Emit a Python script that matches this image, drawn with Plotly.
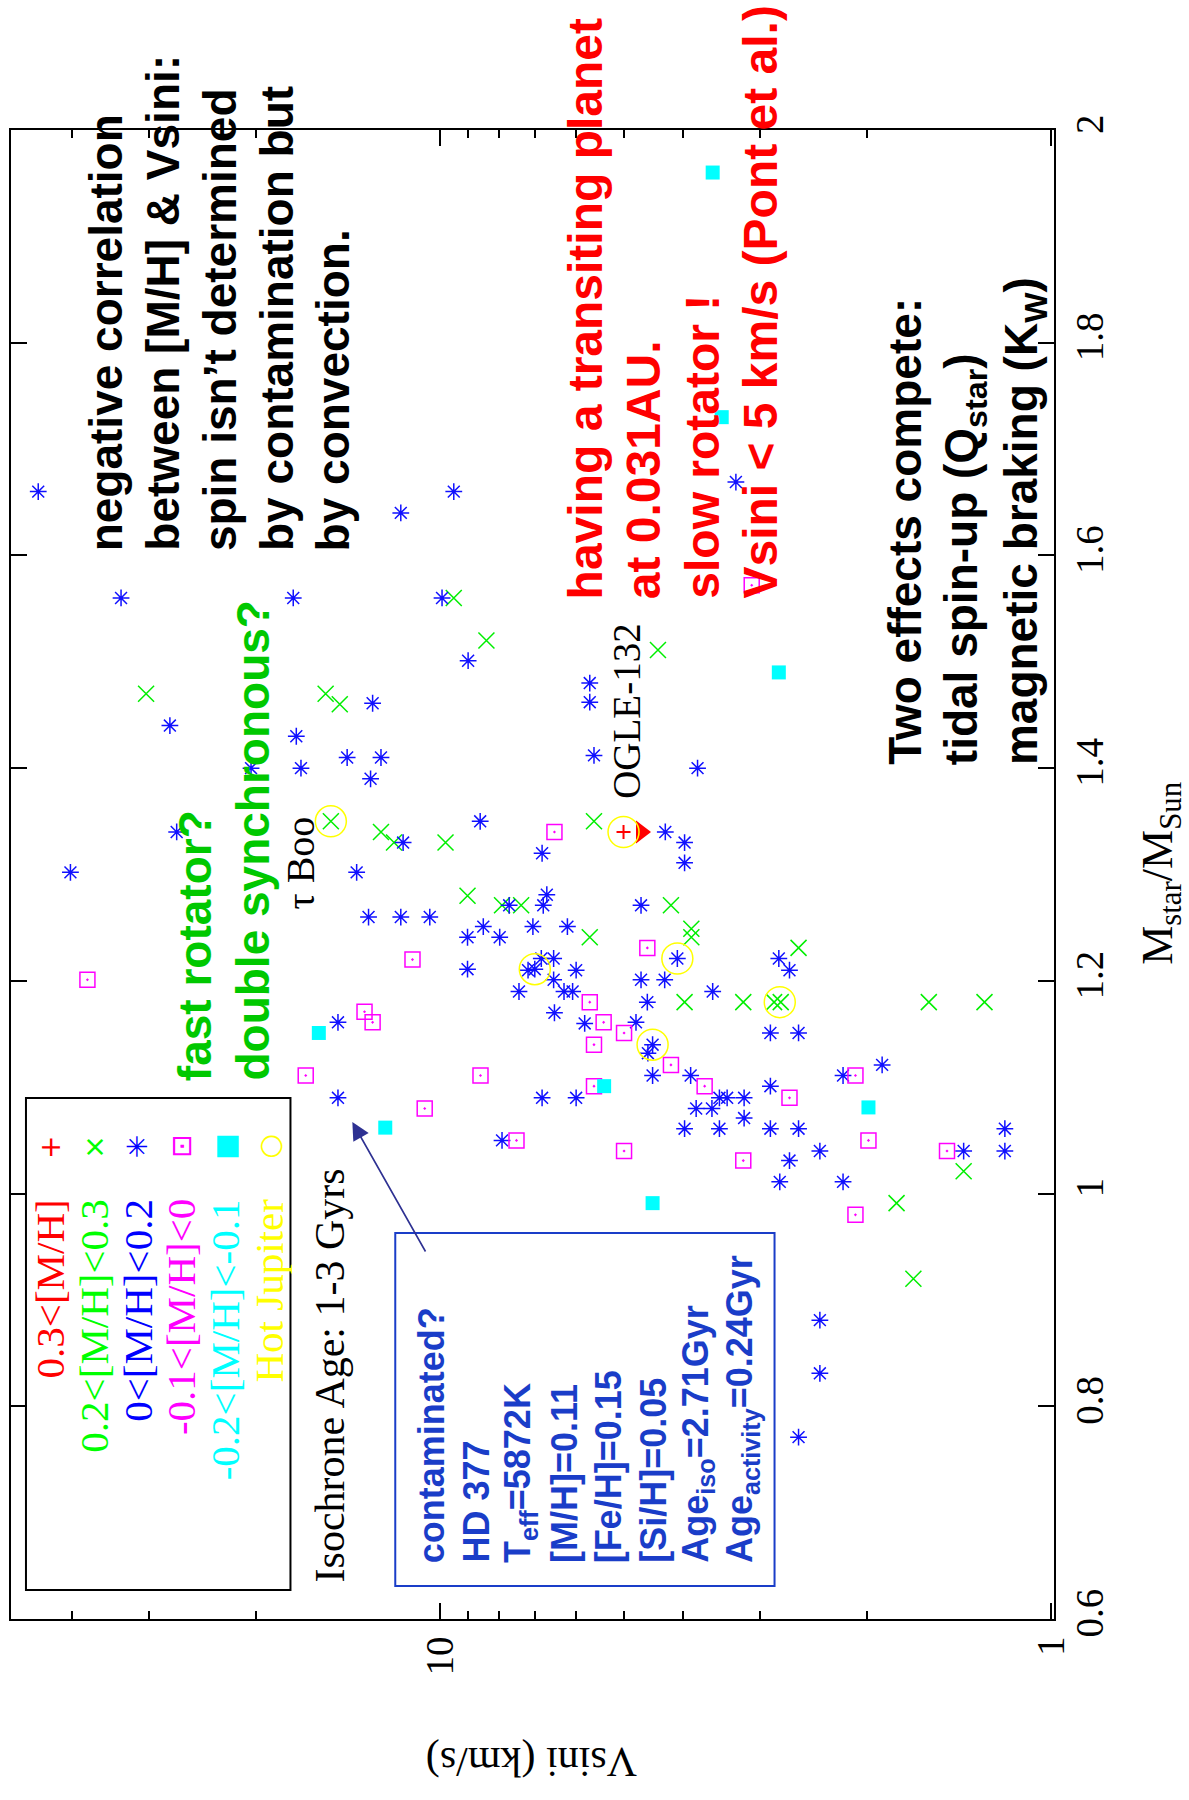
import plotly.graph_objects as go

# ---------------- data: Vsini (km/s) and stellar mass (Msun) ----------------
red_vsini = [5.01]
red_mass = [1.34]

ogle_limit_vsini = [4.69]
ogle_limit_mass = [1.34]

green_vsini = [9.5, 8.4, 30.3, 15.4, 14.6, 15.1, 12.5, 11.9, 9.8, 4.40, 5.60, 9.02,
               7.92, 7.37, 5.69, 4.19, 3.88, 3.88, 3.98, 3.19, 2.84, 2.77, 1.585,
               1.285, 2.59, 1.79, 1.39, 1.68]
green_mass = [1.560, 1.520, 1.470, 1.470, 1.460, 1.350, 1.340, 1.330, 1.330, 1.511,
              1.350, 1.280, 1.271, 1.271, 1.241, 1.271, 1.249, 1.241, 1.180, 1.180,
              1.180, 1.180, 1.180, 1.180, 1.231, 0.991, 1.021, 0.920]

blue_vsini = [45.5, 11.6, 9.5, 33.3, 17.4, 9.93, 9.0, 27.7, 12.9, 17.2, 16.9, 20.4,
              14.2, 12.5, 13.0, 27.0, 11.5, 8.6, 6.81, 40.3, 13.7, 3.28, 5.69, 5.69,
              5.60, 3.79, 4.28, 3.98, 3.98, 7.71, 13.1, 11.6, 10.4, 9.02, 8.5, 7.99,
              7.05, 9.02, 7.0, 7.43, 14.7, 14.7, 7.92, 6.78, 6.69, 6.19, 4.69, 4.09,
              6.83, 6.52, 5.99, 7.18, 6.52, 6.27, 6.07, 6.5, 4.69, 4.29, 3.58, 4.58,
              2.79, 2.68, 2.88, 2.59, 5.80, 4.78, 4.49, 4.57, 4.49, 3.89, 6.81, 5.99,
              3.49, 3.39, 3.18, 3.81, 3.59, 2.88, 3.18, 3.98, 3.49, 2.88, 2.59, 2.68,
              2.78, 2.39, 2.19, 1.89, 2.19, 1.39, 1.19, 1.19, 2.39, 2.39, 2.59]
blue_mass = [1.660, 1.640, 1.660, 1.560, 1.560, 1.560, 1.501, 1.440, 1.461, 1.430,
             1.400, 1.400, 1.410, 1.410, 1.390, 1.340, 1.330, 1.350, 1.320, 1.302,
             1.302, 1.669, 1.480, 1.462, 1.412, 1.400, 1.340, 1.330, 1.311, 1.271,
             1.260, 1.260, 1.260, 1.241, 1.251, 1.241, 1.251, 1.211, 1.211, 1.190,
             1.161, 1.090, 1.050, 1.271, 1.281, 1.251, 1.271, 1.221, 1.221, 1.221,
             1.210, 1.210, 1.201, 1.190, 1.190, 1.170, 1.201, 1.201, 1.190, 1.180,
             1.221, 1.210, 1.151, 1.151, 1.160, 1.161, 1.140, 1.132, 1.111, 1.111,
             1.090, 1.090, 1.090, 1.090, 1.090, 1.080, 1.080, 1.101, 1.071, 1.061,
             1.061, 1.061, 1.061, 1.031, 1.011, 1.040, 1.111, 1.121, 1.011, 1.040,
             1.061, 1.040, 0.881, 0.831, 0.771]

magenta_vsini = [3.09, 6.50, 11.1, 37.8, 13.3, 12.9, 16.6, 8.59, 10.6, 7.5, 4.58,
                 5.69, 5.40, 5.0, 5.60, 4.19, 3.69, 5.60, 2.68, 5.0, 3.19, 2.09, 1.99,
                 2.09, 1.48]
magenta_mass = [1.572, 1.340, 1.220, 1.201, 1.171, 1.161, 1.111, 1.111, 1.080, 1.050,
                1.231, 1.180, 1.161, 1.151, 1.140, 1.121, 1.101, 1.101, 1.090, 1.040,
                1.031, 1.111, 1.050, 0.980, 1.040]

cyan_vsini = [3.58, 3.46, 2.79, 15.8, 12.3, 5.39, 4.49, 1.99]
cyan_mass = [1.960, 1.730, 1.490, 1.151, 1.062, 1.101, 0.991, 1.081]

hj_vsini = [15.1, 5.01, 7.0, 4.09, 2.78, 4.49]
hj_mass = [1.350, 1.340, 1.211, 1.221, 1.180, 1.140]

mass_ticks = [0.6, 0.8, 1.0, 1.2, 1.4, 1.6, 1.8, 2.0]
mass_tick_labels = ["0.6", "0.8", "1", "1.2", "1.4", "1.6", "1.8", "2"]
vsini_ticks = [1, 10]
vsini_tick_labels = ["1", "10"]
vsini_minor = [2, 3, 4, 5, 6, 7, 8, 9, 20, 30, 40]

legend_labels = ["0.3<[M/H]", "0.2<[M/H]<0.3", "0<[M/H]<0.2",
                 "-0.1<[M/H]<0", "-0.2<[M/H]<-0.1", "Hot Jupiter"]
legend_colors = ["#ff0000", "#00ff00", "#0000ff", "#ff00ff", "#00ffff", "#ffff00"]
legend_glyphs = ["+", "×", "✳", "⊡", "■", "○"]

# ---------------- layout geometry (pixels of the 1189x1800 page) ----------------
W, H = 1189, 1800
PL, PR, PT, PB = 9, 1054, 130, 1619


def px(X):
    return (X - PL) / (PR - PL)


def py(Y):
    return (PB - Y) / (PB - PT)


SANS = "Liberation Sans, Arial, sans-serif"
SERIF = "Liberation Serif, Times New Roman, serif"

fig = go.Figure()


def add_markers(xs, ys, symbol, size, color, width=1.5, filled=False):
    fig.add_trace(go.Scatter(
        x=xs, y=ys, mode="markers", hoverinfo="skip",
        marker=dict(symbol=symbol, size=size, color=color,
                    line=dict(color=color, width=0 if filled else width))))


add_markers(red_vsini, red_mass, "cross-thin-open", 10, "#ff0000", 2)
add_markers(ogle_limit_vsini, ogle_limit_mass, "triangle-right", 20, "#ff0000", filled=True)
add_markers(green_vsini, green_mass, "x-thin-open", 16, "#00ee00", 1.5)
add_markers(blue_vsini, blue_mass, "asterisk-open", 14, "#1010ff", 1.5)
add_markers(magenta_vsini, magenta_mass, "square-open-dot", 15, "#ff00ff", 1.5)
add_markers(cyan_vsini, cyan_mass, "square", 14, "#00ffff", filled=True)
add_markers(hj_vsini, hj_mass, "circle-open", 31, "#ffff00", 1.5)

ann = []


def rot_line(text, X, Y, size, color, family, anchor="bottom", angle=-90):
    ann.append(dict(text=text, x=px(X), y=py(Y), xref="paper", yref="paper",
                    showarrow=False, textangle=angle, xanchor="center",
                    yanchor=anchor, font=dict(family=family, size=size, color=color)))


# black block
black_lines = ["negative correlation", "between [M/H] & Vsini:",
               "spin isn\u2019t determined", "by contamination but", "by convection."]
for i, t in enumerate(black_lines):
    rot_line("<b>" + t + "</b>", 104 + 57 * i, 553, 46, "#000000", SANS)

# red block
red_lines = ["having a transiting planet", "at 0.031AU.", "slow rotator !",
             "Vsini < 5 km/s (Pont et al.)"]
for i, t in enumerate(red_lines):
    rot_line("<b>" + t + "</b>", 585 + 58 * i, 601, 48, "#ff0000", SANS)

# two effects block
two_lines = ["Two effects compete:", "tidal spin-up (Q<sub>star</sub>)",
             "magnetic braking (K<sub>W</sub>)"]
for i, t in enumerate(two_lines):
    rot_line("<b>" + t + "</b>", 904 + 60 * i, 767, 46, "#000000", SANS)

# green block
green_lines = ["fast rotator?", "double synchronous?"]
for i, t in enumerate(green_lines):
    rot_line("<b>" + t + "</b>", 193 + 58 * i, 1083, 46, "#00c800", SANS)

# HD 377 box text
hd_lines = ["contaminated?", "HD 377", "T<sub>eff</sub>=5872K", "[M/H]=0.11",
            "[Fe/H]=0.15", "[Si/H]=0.05", "Age<sub>iso</sub>=2.71Gyr",
            "Age<sub>activity</sub>=0.24Gyr"]
for i, t in enumerate(hd_lines):
    rot_line("<b>" + t + "</b>", 430 + 44.5 * i, 1565, 36, "#1a3dc8", SANS)

# legend
for i, (t, c, g) in enumerate(zip(legend_labels, legend_colors, legend_glyphs)):
    rot_line(t, 48 + 43.8 * i, 1197, 41, c, SERIF, anchor="top")
    rot_line(g, 48 + 43.8 * i, 1147, 28, c, "DejaVu Sans", anchor="middle")

# misc serif labels
rot_line("Isochrone Age: 1-3 Gyrs", 329, 1375, 42, "#000000", SERIF, anchor="middle")
rot_line("\u03c4 Boo", 299, 863, 40, "#000000", SERIF, anchor="middle")
rot_line("OGLE-132", 625, 711, 39, "#000000", SERIF, anchor="middle")

# axis titles
rot_line("M<sub>star</sub>/M<sub>Sun</sub>", 1160, 873, 44, "#000000", SERIF, anchor="middle")
rot_line("Vsini (km/s)", 531, 1762, 42, "#000000", SERIF, anchor="middle", angle=180)

# arrow to HD 377
ann.append(dict(text="", x=px(351), y=py(1122), xref="paper", yref="paper",
                showarrow=True, ax=74, ay=131, arrowcolor="#2e3192",
                arrowwidth=1.6, arrowhead=2, arrowsize=2.2))

shapes = [
    dict(type="rect", xref="paper", yref="paper", x0=px(24), x1=px(289),
         y0=py(1590), y1=py(1098), line=dict(color="#000000", width=2)),
    dict(type="rect", xref="paper", yref="paper", x0=px(394), x1=px(774),
         y0=py(1586), y1=py(1233), line=dict(color="#1a3dc8", width=2)),
]

fig.update_layout(
    width=W, height=H,
    margin=dict(l=PL, r=W - PR, t=PT, b=H - PB, pad=0),
    paper_bgcolor="white", plot_bgcolor="white",
    showlegend=False,
    annotations=ann, shapes=shapes,
    xaxis=dict(type="log", range=[1.7026, -0.0049],
               tickvals=vsini_ticks, ticktext=vsini_tick_labels,
               tickangle=-90, ticks="inside", ticklen=16, tickwidth=1.5,
               tickcolor="black", showline=True, linecolor="black", linewidth=2,
               mirror="ticks", showgrid=False, zeroline=False,
               tickfont=dict(family=SERIF, size=39, color="black"),
               minor=dict(tickvals=vsini_minor, ticks="inside", ticklen=8,
                          tickwidth=1.5, tickcolor="black", showgrid=False)),
    yaxis=dict(range=[0.6, 2.0], side="right",
               tickvals=mass_ticks, ticktext=mass_tick_labels,
               tickangle=-90, ticks="inside", ticklen=16, tickwidth=1.5,
               tickcolor="black", showline=True, linecolor="black", linewidth=2,
               mirror="ticks", showgrid=False, zeroline=False,
               tickfont=dict(family=SERIF, size=39, color="black")),
)

fig.write_html("out.html", config={"displayModeBar": False},
               post_script="document.body.style.margin='0';")
